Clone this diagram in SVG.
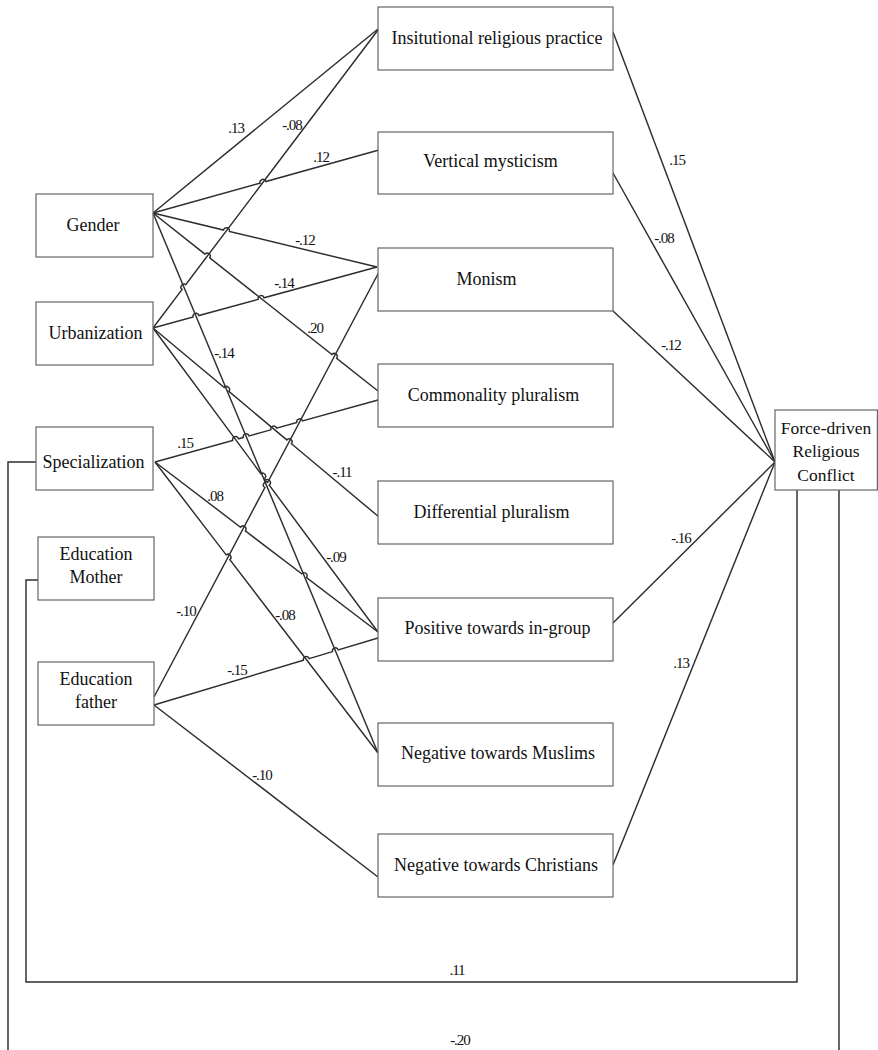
<svg xmlns="http://www.w3.org/2000/svg" width="878" height="1050" viewBox="0 0 878 1050">
<style>
.box{fill:#fff;stroke:#666;stroke-width:1.2}
.t{font-size:18px;fill:#111;text-anchor:middle}
.lb{font-size:15px;fill:#111;text-anchor:middle;letter-spacing:-1px}
.c{fill:none;stroke:#2e2e2e;stroke-width:1.45}
</style>
<rect width="878" height="1050" fill="#fff"/>
<g id="connectors" font-family="Liberation Serif, DejaVu Serif, serif">
<path class="c" d="M153,213 L378,29"/>
<path class="c" d="M153,213 L260.09,183.15 A3,3 0 0 1 265.87,181.53 L379,150"/>
<path class="c" d="M153,213 L223.54,230.01 A3,3 0 0 1 229.38,231.41 L377,267"/>
<path class="c" d="M153,213 L205.01,254.14 A3,3 0 0 1 209.71,257.86 L331.95,354.56 A3,3 0 0 1 336.65,358.28 L378,391"/>
<path class="c" d="M153,213 L378,753"/>
<path class="c" d="M153,328 L182.07,289.49 A3,3 0 0 1 185.69,284.71 L378,30"/>
<path class="c" d="M153,328 L193.14,317.07 A3,3 0 0 1 198.93,315.49 L258.25,299.34 A3,3 0 0 1 264.04,297.76 L377,267"/>
<path class="c" d="M153,328 L224.24,387.58 A3,3 0 0 1 228.84,391.43 L286.80,439.90 A3,3 0 0 1 291.40,443.75 L379,517"/>
<path class="c" d="M153,328 L260.86,473.72 A3,3 0 0 1 264.43,478.54 L265.69,480.24 A3,3 0 0 1 269.26,485.06 L378,632"/>
<path class="c" d="M155,462 L232.70,440.39 A3,3 0 0 1 238.48,438.79 L243.29,437.44 A3,3 0 0 1 249.07,435.84 L270.86,429.83 A3,3 0 0 1 276.64,428.23 L296.82,422.57 A3,3 0 0 1 302.60,420.97 L378,400"/>
<path class="c" d="M155,462 L240.54,527.21 A3,3 0 0 1 245.32,530.85 L301.72,573.85 A3,3 0 0 1 306.50,577.49 L378,632"/>
<path class="c" d="M155,462 L226.17,554.87 A3,3 0 0 1 229.82,559.63 L378,753"/>
<path class="c" d="M154,697 L264.89,487.55 A3,3 0 0 1 267.69,482.25 L379,272"/>
<path class="c" d="M154,705 L303.44,660.30 A3,3 0 0 1 309.18,658.58 L332.52,651.60 A3,3 0 0 1 338.26,649.88 L378,638"/>
<path class="c" d="M154,705 L378,877"/>
<path class="c" d="M613,32 L775,462"/>
<path class="c" d="M613,173 L775,462"/>
<path class="c" d="M613,311 L775,462"/>
<path class="c" d="M613,623 L775,462"/>
<path class="c" d="M613,865 L775,462"/>
<path class="c" d="M797,490 L797,982 L26,982 L26,580 L38,580"/>
<path class="c" d="M839,490 L839,1070 L8,1070 L8,462 L36,462"/>
<text class="lb" x="236" y="133">.13</text>
<text class="lb" x="292" y="130">-.08</text>
<text class="lb" x="321" y="162">.12</text>
<text class="lb" x="305" y="245">-.12</text>
<text class="lb" x="284" y="288">-.14</text>
<text class="lb" x="315" y="333">.20</text>
<text class="lb" x="224" y="358">-.14</text>
<text class="lb" x="185" y="448">.15</text>
<text class="lb" x="342" y="477">-.11</text>
<text class="lb" x="215" y="501">.08</text>
<text class="lb" x="336" y="562">-.09</text>
<text class="lb" x="186" y="616">-.10</text>
<text class="lb" x="285" y="620">-.08</text>
<text class="lb" x="237" y="675">-.15</text>
<text class="lb" x="262" y="780">-.10</text>
<text class="lb" x="677" y="165">.15</text>
<text class="lb" x="664" y="243">-.08</text>
<text class="lb" x="671" y="350">-.12</text>
<text class="lb" x="681" y="543">-.16</text>
<text class="lb" x="681" y="668">.13</text>
<text class="lb" x="457" y="975">.11</text>
<text class="lb" x="460" y="1045">-.20</text>
</g>
<g font-family="Liberation Serif, DejaVu Serif, serif">
<g id="gender"><rect class="box" x="36" y="194" width="117" height="63"/><text class="t" x="93" y="231">Gender</text></g>
<g id="urbanization"><rect class="box" x="36" y="302" width="117" height="63"/><text class="t" x="95.5" y="339">Urbanization</text></g>
<g id="specialization"><rect class="box" x="36" y="427" width="117" height="63"/><text class="t" x="93.5" y="468">Specialization</text></g>
<g id="education-mother"><rect class="box" x="38" y="537" width="116" height="63"/><text class="t" x="96" y="560">Education</text><text class="t" x="96" y="583">Mother</text></g>
<g id="education-father"><rect class="box" x="38" y="662" width="116" height="63"/><text class="t" x="96" y="685">Education</text><text class="t" x="96" y="708">father</text></g>
<g id="institutional"><rect class="box" x="378" y="7" width="235" height="63"/><text class="t" x="497" y="44">Insitutional religious practice</text></g>
<g id="vertical"><rect class="box" x="378" y="132" width="235" height="62"/><text class="t" x="490.5" y="167">Vertical mysticism</text></g>
<g id="monism"><rect class="box" x="378" y="248" width="235" height="63"/><text class="t" x="486.5" y="285">Monism</text></g>
<g id="commonality"><rect class="box" x="378" y="364" width="235" height="63"/><text class="t" x="493.5" y="401">Commonality pluralism</text></g>
<g id="differential"><rect class="box" x="378" y="481" width="235" height="63"/><text class="t" x="491.5" y="518">Differential pluralism</text></g>
<g id="positive"><rect class="box" x="378" y="598" width="235" height="63"/><text class="t" x="497.5" y="634">Positive towards in-group</text></g>
<g id="neg-muslims"><rect class="box" x="378" y="723" width="235" height="63"/><text class="t" x="498" y="759">Negative towards Muslims</text></g>
<g id="neg-christians"><rect class="box" x="378" y="834" width="235" height="63"/><text class="t" x="496" y="871">Negative towards Christians</text></g>
<g id="force-driven"><rect class="box" x="775" y="410" width="102.4" height="80"/><text class="t" x="826" y="434" style="font-size:17.5px">Force-driven</text><text class="t" x="826" y="457" style="font-size:17.5px">Religious</text><text class="t" x="826" y="481" style="font-size:17.5px">Conflict</text></g>
</g>
</svg>
